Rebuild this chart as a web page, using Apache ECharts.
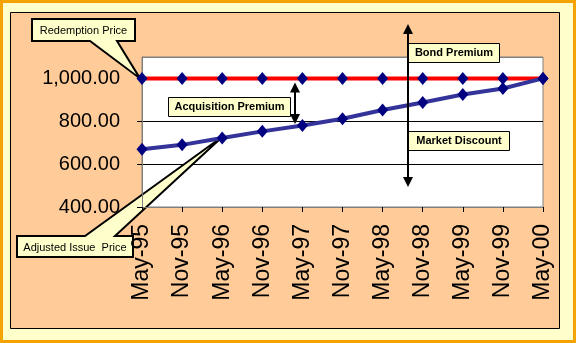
<!DOCTYPE html>
<html>
<head>
<meta charset="utf-8">
<script src="https://cdn.jsdelivr.net/npm/echarts@6/dist/echarts.min.js"></script>
<style>
  html, body { margin: 0; padding: 0; background: #FFFFCC; }
  #frame { width: 576px; height: 343px; box-sizing: border-box; border: 3px solid #F5A300; background: #FFFFCC; position: relative; }
  #chart { position: absolute; left: -3px; top: -3px; width: 576px; height: 343px; }
</style>
</head>
<body>
<div id="frame"><div id="chart"></div></div>
<script>
// Semi-annual dates from issue to maturity
const categories = ['May-95', 'Nov-95', 'May-96', 'Nov-96', 'May-97', 'Nov-97',
                    'May-98', 'Nov-98', 'May-99', 'Nov-99', 'May-00'];
// Redemption (face) value of the bond
const redemptionPrice = [1000, 1000, 1000, 1000, 1000, 1000, 1000, 1000, 1000, 1000, 1000];
// Adjusted issue price, accreting towards face value
const adjustedIssuePrice = [670, 690, 722, 753, 780, 812, 853, 888, 925, 953, 1000];
// Value axis range and step
const yMin = 400, yMax = 1100, yStep = 200;

const SANS = "'Liberation Sans', Arial, sans-serif";

const chart = echarts.init(document.getElementById('chart'), null, { renderer: 'canvas' });

const option = {
  animation: false,
  backgroundColor: 'transparent',
  grid: {
    left: 142, top: 57, right: 33, bottom: 136,
    show: true, backgroundColor: '#FFFFFF', borderColor: '#808080', borderWidth: 1
  },
  xAxis: {
    type: 'category',
    data: categories,
    boundaryGap: false,
    axisLine: { show: true, lineStyle: { color: '#808080', width: 1 } },
    axisTick: { show: true, length: 5, lineStyle: { color: '#000', width: 1 } },
    axisLabel: {
      rotate: 90, margin: 17, color: '#000',
      fontFamily: SANS, fontSize: 23, interval: 0, padding: [0, 0, 0, 0]
    },
    splitLine: { show: false }
  },
  yAxis: {
    type: 'value',
    min: yMin, max: yMax, interval: yStep,
    axisLine: { show: true, lineStyle: { color: '#808080', width: 1 } },
    axisTick: { show: true, length: 5, lineStyle: { color: '#000', width: 1 } },
    axisLabel: {
      color: '#000', fontFamily: SANS, fontSize: 20, margin: 22,
      showMaxLabel: false,
      formatter: v => v.toLocaleString('en-US', { minimumFractionDigits: 2, maximumFractionDigits: 2 })
    },
    splitLine: {
      show: true,
      lineStyle: { color: ['#808080', '#000000', '#000000', '#000000', '#808080'], width: 1 }
    }
  },
  series: [
    {
      name: 'Redemption Price',
      type: 'line',
      data: redemptionPrice,
      lineStyle: { color: '#FF0000', width: 4 },
      symbol: 'diamond', symbolSize: [11, 13],
      itemStyle: { color: '#000080' },
      z: 3
    },
    {
      name: 'Adjusted Issue Price',
      type: 'line',
      data: adjustedIssuePrice,
      lineStyle: { color: '#333399', width: 4 },
      symbol: 'diamond', symbolSize: [11, 13],
      itemStyle: { color: '#000080' },
      z: 4
    }
  ]
};
chart.setOption(option);

// ---- annotation overlay ----
const px = (i, v) => chart.convertToPixel({ gridIndex: 0 }, [i, v]);

function labelBox(x, y, w, h, text) {
  return {
    type: 'group', z: 20,
    children: [
      { type: 'rect', shape: { x: x, y: y, width: w, height: h },
        style: { fill: '#FFFFCC', stroke: '#000', lineWidth: 1 } },
      { type: 'text', x: x + w / 2, y: y + h / 2,
        style: { text: text, fill: '#000', font: 'bold 11px ' + SANS, align: 'center', verticalAlign: 'middle' } }
    ]
  };
}

function arrowHead(x, y, dir) {
  // dir = -1 points up, +1 points down
  return { type: 'polygon', z: 19,
    shape: { points: [[x, y], [x - 5, y - dir * 10], [x + 5, y - dir * 10]] },
    style: { fill: '#000' } };
}

function vArrow(x, y1, y2) {
  return [
    { type: 'line', z: 19, shape: { x1: x, y1: y1 + 8, x2: x, y2: y2 - 8 },
      style: { stroke: '#000', lineWidth: 2 } },
    arrowHead(x, y1, -1),
    arrowHead(x, y2, 1)
  ];
}

function callout(box, baseA, baseB, tip, onTop, text) {
  const [x, y, w, h] = box;
  let pts;
  if (onTop) {
    pts = [[x, y], [baseA, y], tip, [baseB, y], [x + w, y], [x + w, y + h], [x, y + h]];
  } else {
    pts = [[x, y], [x + w, y], [x + w, y + h], [baseB, y + h], tip, [baseA, y + h], [x, y + h]];
  }
  return {
    type: 'group', z: 21,
    children: [
      { type: 'polygon', shape: { points: pts },
        style: { fill: '#FFFFCC', stroke: '#000', lineWidth: 2, lineJoin: 'miter' } },
      { type: 'text', x: x + w / 2, y: y + h / 2 + 1,
        style: { text: text, fill: '#000', font: '11px ' + SANS, align: 'center', verticalAlign: 'middle' } }
    ]
  };
}

const redTip = px(0, redemptionPrice[0]);
const adjTip = px(2, adjustedIssuePrice[2]);
const topY = px(0, 1000)[1];

const graphics = [
  // peach chart area with black frame
  { type: 'rect', z: -10, silent: true,
    shape: { x: 10.5, y: 12.5, width: 549, height: 316 },
    style: { fill: '#FFCC99', stroke: '#000', lineWidth: 1 } },
  callout([32, 19, 103, 22], 90, 117, [redTip[0] - 2, redTip[1]], false, 'Redemption Price'),
  callout([17, 236, 116, 21], 85, 115, [adjTip[0] + 1, adjTip[1] - 2], true, 'Adjusted Issue  Price'),
  labelBox(168.5, 97.5, 122, 19, 'Acquisition Premium'),
  labelBox(408.5, 43.5, 91, 19, 'Bond Premium'),
  labelBox(408.5, 131.5, 101, 19, 'Market Discount'),
  ...vArrow(295, topY + 4, 124),
  ...vArrow(408, 24, 187)
];
chart.setOption({ graphic: graphics });
</script>
</body>
</html>
